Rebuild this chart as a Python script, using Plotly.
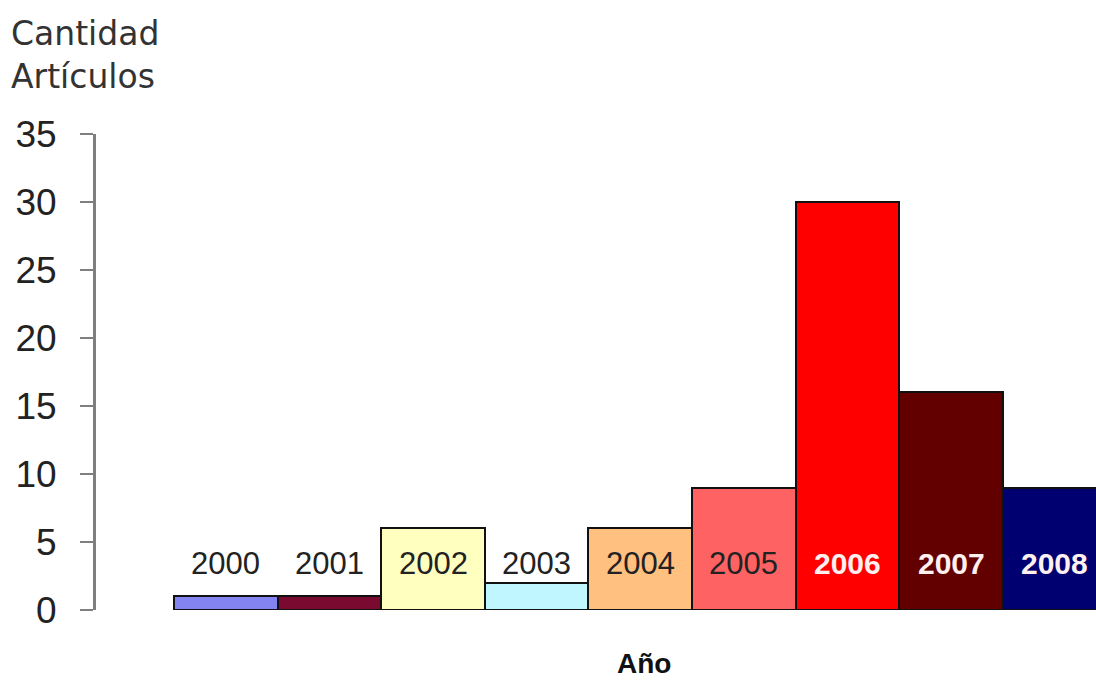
import plotly.graph_objects as go

years = ["2000", "2001", "2002", "2003", "2004", "2005", "2006", "2007", "2008"]
counts = [1, 1, 6, 2, 6, 9, 30, 16, 9]
bar_colors = ["#8383F2", "#7A0A30", "#FFFFC0", "#C0F6FF", "#FFC080",
              "#FF6262", "#FF0000", "#620000", "#000070"]
label_colors = ["#222222"] * 6 + ["#FFF0F0"] * 3
label_bold = [False] * 6 + [True] * 3
y_ticks = [0, 5, 10, 15, 20, 25, 30, 35]

x_idx = list(range(len(years)))

fig = go.Figure()
fig.add_trace(go.Bar(
    x=x_idx, y=counts, width=1,
    marker=dict(color=bar_colors, line=dict(color="#111111", width=2)),
    hoverinfo="skip", showlegend=False,
))

LABEL_Y = 3.4
for i, (yr, c, b) in enumerate(zip(years, label_colors, label_bold)):
    fig.add_annotation(
        x=i, y=LABEL_Y, text=f"<b>{yr}</b>" if b else yr, showarrow=False,
        font=dict(family="Arial, Liberation Sans", size=31 if not b else 30, color=c),
        xanchor="center", yanchor="middle",
    )

fig.add_annotation(
    xref="paper", yref="paper", x=0.548, y=-0.113, text="<b>Año</b>",
    showarrow=False, font=dict(family="Arial, Liberation Sans", size=28, color="#111111"),
    xanchor="center", yanchor="middle",
)
fig.add_annotation(
    xref="paper", yref="paper", x=-0.087, y=1.076,
    text="Cantidad<br>Artículos", showarrow=False, align="left",
    font=dict(family="DejaVu Sans, Verdana", size=33, color="#333333"),
    xanchor="left", yanchor="bottom",
)

fig.update_layout(
    width=1096, height=681,
    margin=dict(l=96, r=0, t=134, b=71),
    paper_bgcolor="white", plot_bgcolor="white",
    bargap=0,
    xaxis=dict(range=[-1.255, 8.40], showticklabels=False, showgrid=False,
               zeroline=False, showline=False, ticks=""),
    yaxis=dict(range=[0, 35], tickvals=y_ticks, showgrid=False, zeroline=False,
               showline=True, linecolor="#7F7F7F", linewidth=3,
               ticks="outside", ticklen=13, tickwidth=2, tickcolor="#7F7F7F",
               ticklabelstandoff=16,
               tickfont=dict(family="Arial, Liberation Sans", size=37, color="#222222")),
)

fig.write_html("out.html")
